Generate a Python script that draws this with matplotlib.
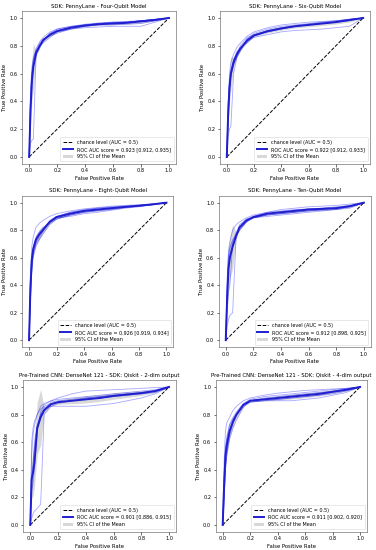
import numpy as np
import matplotlib
matplotlib.use("Agg")
import matplotlib.pyplot as plt

# Shared false positive rate grid (read points)
FPR = [0, 0.01, 0.02, 0.03, 0.05, 0.075, 0.1, 0.15, 0.2, 0.3, 0.4, 0.5, 0.6, 0.7, 0.8, 0.9, 1.0]

TITLES = [
    "SDK: PennyLane - Four-Qubit Model",
    "SDK: PennyLane - Six-Qubit Model",
    "SDK: PennyLane - Eight-Qubit Model",
    "SDK: PennyLane - Ten-Qubit Model",
    "Pre-Trained CNN: DenseNet 121 - SDK: Qiskit - 2-dim output",
    "Pre-Trained CNN: DenseNet 121 - SDK: Qiskit - 4-dim output",
]

AUC_LABELS = [
    "0.923 [0.912, 0.935]",
    "0.922 [0.912, 0.933]",
    "0.926 [0.919, 0.934]",
    "0.912 [0.898, 0.925]",
    "0.901 [0.886, 0.915]",
    "0.911 [0.902, 0.920]",
]

# Mean TPR per panel
MEAN_TPR = [
    [0, 0.35, 0.55, 0.65, 0.75, 0.80, 0.84, 0.88, 0.905, 0.93, 0.945, 0.955, 0.96, 0.965, 0.975, 0.985, 1.0],
    [0, 0.30, 0.50, 0.60, 0.68, 0.74, 0.78, 0.84, 0.875, 0.905, 0.925, 0.94, 0.95, 0.96, 0.97, 0.985, 1.0],
    [0, 0.38, 0.58, 0.66, 0.73, 0.77, 0.80, 0.86, 0.895, 0.92, 0.94, 0.95, 0.96, 0.97, 0.978, 0.988, 1.0],
    [0, 0.30, 0.52, 0.60, 0.68, 0.76, 0.82, 0.87, 0.895, 0.92, 0.93, 0.94, 0.95, 0.955, 0.96, 0.975, 1.0],
    [0, 0.33, 0.38, 0.45, 0.70, 0.78, 0.83, 0.875, 0.89, 0.90, 0.91, 0.92, 0.935, 0.945, 0.955, 0.97, 1.0],
    [0, 0.28, 0.50, 0.58, 0.68, 0.75, 0.80, 0.87, 0.90, 0.91, 0.92, 0.93, 0.94, 0.95, 0.965, 0.98, 1.0],
]

# Individual fold curves per panel
FOLDS = [
    [
        [0, 0.45, 0.62, 0.70, 0.78, 0.83, 0.86, 0.90, 0.92, 0.94, 0.95, 0.96, 0.965, 0.97, 0.98, 0.99, 1.0],
        [0, 0.10, 0.12, 0.13, 0.75, 0.80, 0.84, 0.88, 0.91, 0.93, 0.95, 0.96, 0.97, 0.97, 0.98, 0.99, 1.0],
        [0, 0.40, 0.60, 0.68, 0.77, 0.82, 0.85, 0.87, 0.89, 0.92, 0.94, 0.95, 0.95, 0.955, 0.96, 0.98, 1.0],
        [0, 0.30, 0.55, 0.66, 0.74, 0.79, 0.83, 0.89, 0.91, 0.935, 0.95, 0.96, 0.965, 0.97, 0.98, 0.99, 1.0],
        [0, 0.50, 0.65, 0.72, 0.76, 0.80, 0.82, 0.86, 0.90, 0.92, 0.93, 0.935, 0.94, 0.94, 0.94, 0.97, 1.0],
        [0, 0.35, 0.58, 0.66, 0.73, 0.78, 0.84, 0.89, 0.92, 0.94, 0.955, 0.965, 0.97, 0.975, 0.98, 0.99, 1.0],
    ],
    [
        [0, 0.40, 0.60, 0.68, 0.74, 0.79, 0.82, 0.87, 0.90, 0.93, 0.95, 0.96, 0.97, 0.975, 0.98, 0.99, 1.0],
        [0, 0.15, 0.20, 0.22, 0.60, 0.72, 0.77, 0.83, 0.87, 0.90, 0.92, 0.94, 0.95, 0.96, 0.97, 0.985, 1.0],
        [0, 0.35, 0.55, 0.63, 0.70, 0.75, 0.78, 0.83, 0.86, 0.88, 0.90, 0.91, 0.915, 0.92, 0.93, 0.94, 1.0],
        [0, 0.25, 0.45, 0.58, 0.66, 0.72, 0.76, 0.85, 0.89, 0.92, 0.94, 0.95, 0.96, 0.97, 0.98, 0.99, 1.0],
        [0, 0.38, 0.52, 0.60, 0.69, 0.74, 0.80, 0.86, 0.88, 0.91, 0.93, 0.945, 0.955, 0.965, 0.975, 0.99, 1.0],
        [0, 0.30, 0.48, 0.58, 0.70, 0.76, 0.79, 0.82, 0.87, 0.90, 0.92, 0.94, 0.95, 0.96, 0.97, 0.98, 1.0],
    ],
    [
        [0, 0.50, 0.68, 0.75, 0.82, 0.85, 0.87, 0.90, 0.92, 0.94, 0.955, 0.965, 0.975, 0.98, 0.985, 0.99, 1.0],
        [0, 0.30, 0.50, 0.60, 0.68, 0.73, 0.77, 0.84, 0.88, 0.91, 0.93, 0.945, 0.955, 0.965, 0.975, 0.985, 1.0],
        [0, 0.40, 0.60, 0.67, 0.74, 0.78, 0.81, 0.86, 0.89, 0.90, 0.92, 0.93, 0.945, 0.96, 0.97, 0.985, 1.0],
        [0, 0.35, 0.55, 0.64, 0.71, 0.76, 0.79, 0.87, 0.90, 0.93, 0.95, 0.96, 0.97, 0.975, 0.98, 0.99, 1.0],
        [0, 0.45, 0.62, 0.68, 0.75, 0.79, 0.82, 0.85, 0.88, 0.91, 0.93, 0.94, 0.95, 0.965, 0.975, 0.985, 1.0],
        [0, 0.28, 0.52, 0.62, 0.70, 0.74, 0.79, 0.86, 0.90, 0.93, 0.945, 0.96, 0.965, 0.97, 0.98, 0.99, 1.0],
    ],
    [
        [0, 0.45, 0.65, 0.72, 0.80, 0.84, 0.86, 0.89, 0.91, 0.93, 0.95, 0.96, 0.97, 0.975, 0.98, 0.99, 1.0],
        [0, 0.10, 0.15, 0.18, 0.20, 0.75, 0.80, 0.86, 0.89, 0.91, 0.92, 0.93, 0.94, 0.95, 0.96, 0.97, 1.0],
        [0, 0.35, 0.60, 0.66, 0.72, 0.78, 0.84, 0.88, 0.90, 0.93, 0.94, 0.95, 0.955, 0.96, 0.965, 0.975, 1.0],
        [0, 0.20, 0.35, 0.40, 0.70, 0.77, 0.82, 0.87, 0.89, 0.91, 0.92, 0.93, 0.94, 0.945, 0.95, 0.96, 1.0],
        [0, 0.40, 0.62, 0.68, 0.73, 0.76, 0.80, 0.86, 0.90, 0.92, 0.935, 0.945, 0.955, 0.96, 0.97, 0.98, 1.0],
        [0, 0.30, 0.55, 0.62, 0.70, 0.74, 0.83, 0.88, 0.89, 0.90, 0.91, 0.92, 0.93, 0.94, 0.95, 0.97, 1.0],
    ],
    [
        [0, 0.50, 0.65, 0.72, 0.80, 0.86, 0.88, 0.90, 0.92, 0.95, 0.97, 0.975, 0.98, 0.985, 0.99, 0.995, 1.0],
        [0, 0.05, 0.08, 0.10, 0.12, 0.15, 0.80, 0.86, 0.88, 0.90, 0.92, 0.93, 0.94, 0.95, 0.96, 0.97, 1.0],
        [0, 0.30, 0.40, 0.60, 0.72, 0.80, 0.85, 0.86, 0.86, 0.86, 0.86, 0.87, 0.88, 0.90, 0.92, 0.95, 1.0],
        [0, 0.35, 0.45, 0.55, 0.72, 0.80, 0.84, 0.89, 0.90, 0.91, 0.92, 0.93, 0.94, 0.95, 0.96, 0.975, 1.0],
        [0, 0.25, 0.30, 0.40, 0.68, 0.82, 0.87, 0.90, 0.91, 0.92, 0.93, 0.94, 0.95, 0.96, 0.97, 0.98, 1.0],
        [0, 0.60, 0.70, 0.75, 0.80, 0.84, 0.86, 0.88, 0.89, 0.90, 0.91, 0.92, 0.93, 0.94, 0.95, 0.96, 1.0],
    ],
    [
        [0, 0.45, 0.68, 0.74, 0.78, 0.83, 0.86, 0.90, 0.92, 0.94, 0.955, 0.965, 0.975, 0.98, 0.985, 0.99, 1.0],
        [0, 0.20, 0.40, 0.50, 0.62, 0.70, 0.76, 0.85, 0.90, 0.91, 0.91, 0.92, 0.93, 0.94, 0.95, 0.97, 1.0],
        [0, 0.30, 0.55, 0.62, 0.72, 0.77, 0.80, 0.87, 0.89, 0.90, 0.91, 0.92, 0.93, 0.94, 0.96, 0.975, 1.0],
        [0, 0.25, 0.45, 0.55, 0.66, 0.74, 0.79, 0.86, 0.89, 0.90, 0.90, 0.90, 0.91, 0.92, 0.94, 0.96, 1.0],
        [0, 0.35, 0.55, 0.64, 0.73, 0.78, 0.82, 0.88, 0.91, 0.93, 0.94, 0.95, 0.96, 0.97, 0.98, 0.99, 1.0],
        [0, 0.15, 0.40, 0.52, 0.65, 0.73, 0.80, 0.87, 0.90, 0.92, 0.93, 0.94, 0.95, 0.96, 0.97, 0.985, 1.0],
    ],
]

# Axes rectangles in figure fractions (left, bottom, width, height)
AXES_POS = [
    (0.059, 0.702, 0.409, 0.278),
    (0.585, 0.702, 0.399, 0.278),
    (0.059, 0.369, 0.402, 0.275),
    (0.582, 0.369, 0.404, 0.275),
    (0.062, 0.033, 0.406, 0.276),
    (0.574, 0.033, 0.402, 0.276),
]


def draw_panel(ax, title, auc_label, mean_tpr, folds):
    fpr = np.array(FPR)
    folds = np.array(folds)
    mean_tpr = np.array(mean_tpr)

    for tpr in folds:
        ax.plot(fpr, tpr, color="b", lw=0.6, alpha=0.35)

    ax.plot([0, 1], [0, 1], "k--", lw=0.7, label="chance level (AUC = 0.5)")
    ax.plot(fpr, mean_tpr, color="#1f1fcf", lw=1.4,
            label=f"ROC AUC score = {auc_label}")

    # 95% CI of the mean from the fold spread
    half = 1.96 * folds.std(axis=0) / np.sqrt(len(folds))
    lower = np.clip(mean_tpr - half, 0, 1)
    upper = np.clip(mean_tpr + half, 0, 1)
    ax.fill_between(fpr, lower, upper, color="grey", alpha=0.3, lw=0,
                    label="95% CI of the Mean")

    ax.set_xlim(-0.05, 1.05)
    ax.set_ylim(-0.05, 1.05)
    ax.set_xticks(np.arange(0, 1.01, 0.2))
    ax.set_yticks(np.arange(0, 1.01, 0.2))
    ax.tick_params(labelsize=3.6, length=1.8, width=0.4, pad=1.5)
    for s in ax.spines.values():
        s.set_linewidth(0.4)
        s.set_color("#555555")
    ax.set_xlabel("False Positive Rate", fontsize=3.8, labelpad=1.5)
    ax.set_ylabel("True Positive Rate", fontsize=3.8, labelpad=1.5)
    ax.set_title(title, fontsize=3.9, pad=2.5)
    ax.legend(loc="lower right", fontsize=3.5, frameon=True,
              handlelength=2.2, borderpad=0.5, labelspacing=0.45,
              framealpha=0.8, edgecolor="#cccccc").get_frame().set_linewidth(0.4)


def main():
    fig = plt.figure(figsize=(3.76, 5.5), dpi=100)
    for i in range(6):
        ax = fig.add_axes(AXES_POS[i])
        draw_panel(ax, TITLES[i], AUC_LABELS[i], MEAN_TPR[i], FOLDS[i])
    fig.savefig("out.png", dpi=100)
    plt.close(fig)


if __name__ == "__main__":
    main()
